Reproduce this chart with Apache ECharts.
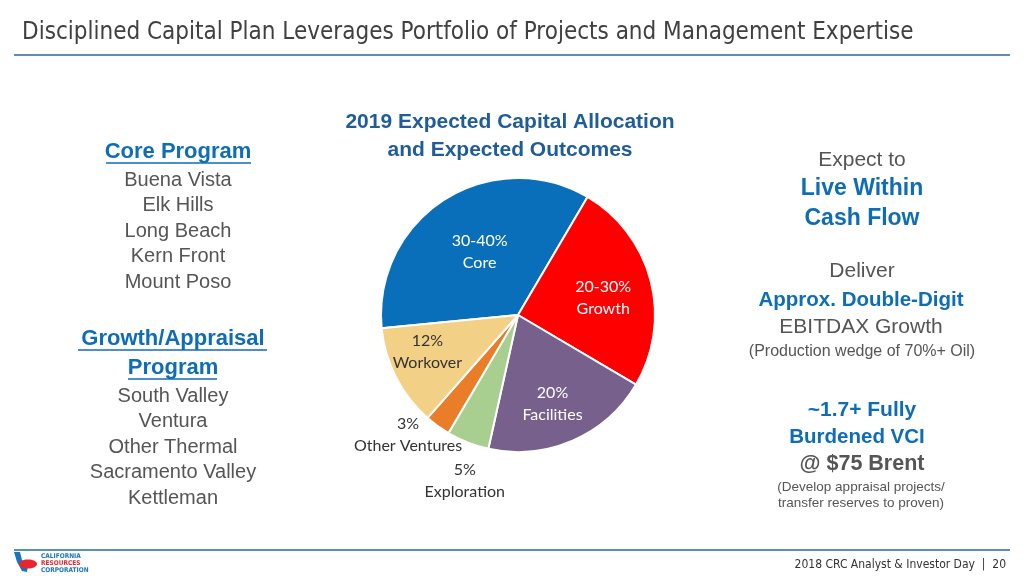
<!DOCTYPE html>
<html>
<head>
<meta charset="utf-8">
<title>Disciplined Capital Plan</title>
<script src="https://cdn.jsdelivr.net/npm/echarts@6/dist/echarts.min.js"></script>
<style>
  html, body { margin: 0; padding: 0; background: #fff; }
  #main { width: 1024px; height: 576px; }
</style>
</head>
<body>
<div id="main"></div>
<script>
// 数据
var sliceNames = ['Core', 'Growth', 'Facilities', 'Exploration', 'Other Ventures', 'Workover']
var sliceValues = [35, 25, 20, 5, 3, 12]
var sliceLabels = ['30-40%', '20-30%', '20%', '5%', '3%', '12%']
var coreFields = ['Buena Vista', 'Elk Hills', 'Long Beach', 'Kern Front', 'Mount Poso']
var growthFields = ['South Valley', 'Ventura', 'Other Thermal', 'Sacramento Valley', 'Kettleman']

// 样式
var sliceColors = ['#0a6fba', '#ff0000', '#77608c', '#a9cf90', '#ea7d27', '#f2d085']
var labelColors = ['#fff', '#fff', '#fff', '#333', '#333', '#333']
var labelNudge = [[0, -3], [16, 1], [6, 23], [-27, 99], [-68, 62], [-27, 4]]

var BLUE = '#0f6db6'
var GRAY = '#555'
var SANS = "'Liberation Sans', Arial, sans-serif"
var NARROW = "'Liberation Sans Narrow', 'DejaVu Sans Condensed', sans-serif"

function txt(x, y, text, size, color, weight, family, align) {
  return {
    type: 'text',
    silent: true,
    style: {
      x: x, y: y, text: text,
      fontSize: size, fontWeight: weight || 'normal',
      fontFamily: family || SANS,
      fill: color,
      align: align || 'center', verticalAlign: 'middle',
      textAlign: align || 'center', textVerticalAlign: 'middle'
    }
  }
}

function hline(x1, x2, y, color, w) {
  return {
    type: 'line',
    silent: true,
    shape: { x1: x1, y1: y, x2: x2, y2: y },
    style: { stroke: color, lineWidth: w }
  }
}

var graphics = []
// 标题与分隔线
graphics.push(txt(22, 33, 'Disciplined Capital Plan Leverages Portfolio of Projects and Management Expertise', 24, '#404040', 'normal', NARROW, 'left'))
graphics.push(hline(14, 1010, 55, '#1f6f94', 1.5))
graphics.push(hline(14, 1010, 550, '#1f6f94', 1.5))
graphics.push(txt(1006, 565, '2018 CRC Analyst & Investor Day  |  20', 12, '#333', 'normal', NARROW, 'right'))

// logo
graphics.push({
  type: 'polygon', silent: true,
  shape: { points: [[14, 552], [20, 552], [22, 560], [28, 566], [27, 572], [22, 571], [17, 562]] },
  style: { fill: '#1b75bb' }
})
graphics.push({ type: 'ellipse', silent: true, shape: { cx: 28, cy: 564, rx: 9, ry: 4.5 }, style: { fill: '#e8262f' } })
graphics.push(txt(41, 556, 'CALIFORNIA', 6.5, '#1b75bb', 'bold', NARROW, 'left'))
graphics.push(txt(41, 563, 'RESOURCES', 6.5, '#e8262f', 'bold', NARROW, 'left'))
graphics.push(txt(41, 570, 'CORPORATION', 6.5, '#1b75bb', 'bold', NARROW, 'left'))

// 左侧
graphics.push(txt(178, 152, 'Core Program', 22, BLUE, 'bold'))
graphics.push(hline(106, 251, 163, BLUE, 1.5))
coreFields.forEach(function(f, i) {
  graphics.push(txt(178, 180 + i * 25.5, f, 20, GRAY))
})
graphics.push(txt(173, 339, 'Growth/Appraisal', 22, BLUE, 'bold'))
graphics.push(hline(78, 267, 350, BLUE, 1.5))
graphics.push(txt(173, 368, 'Program', 22, BLUE, 'bold'))
graphics.push(hline(128, 217, 379, BLUE, 1.5))
growthFields.forEach(function(f, i) {
  graphics.push(txt(173, 396 + i * 25.5, f, 20, GRAY))
})

// 饼图标题
graphics.push(txt(510, 122, '2019 Expected Capital Allocation', 21, '#1f5c99', 'bold'))
graphics.push(txt(510, 150, 'and Expected Outcomes', 21, '#1f5c99', 'bold'))

// 右侧
graphics.push(txt(862, 160, 'Expect to', 21, GRAY))
graphics.push(txt(862, 189, 'Live Within', 23, BLUE, 'bold'))
graphics.push(txt(862, 219, 'Cash Flow', 23, BLUE, 'bold'))
graphics.push(txt(862, 271, 'Deliver', 21, GRAY))
graphics.push(txt(861, 300, 'Approx. Double-Digit', 20.5, BLUE, 'bold'))
graphics.push(txt(861, 327, 'EBITDAX Growth', 21, GRAY))
graphics.push(txt(862, 352, '(Production wedge of 70%+ Oil)', 16, GRAY))
graphics.push(txt(862, 410, '~1.7+ Fully', 21, BLUE, 'bold'))
graphics.push(txt(857, 437, 'Burdened VCI', 20.5, BLUE, 'bold'))
graphics.push(txt(862, 464, '@ $75 Brent', 21.5, GRAY, 'bold'))
graphics.push(txt(861, 487, '(Develop appraisal projects/', 13.5, GRAY))
graphics.push(txt(861, 503, 'transfer reserves to proven)', 13.5, GRAY))

var myChart = echarts.init(document.getElementById('main'))

var option = {
  animation: false,
  backgroundColor: '#fff',
  graphic: { elements: graphics },
  series: [
    {
      type: 'pie',
      center: [518, 315],
      radius: 137,
      startAngle: 185.5,
      clockwise: true,
      avoidLabelOverlap: false,
      silent: true,
      itemStyle: { borderColor: '#fff', borderWidth: 2 },
      label: {
        show: true,
        position: 'inside',
        fontFamily: "Lato, 'Open Sans', sans-serif",
        fontSize: 16,
        lineHeight: 22,
        formatter: function(p) {
          return sliceLabels[p.dataIndex] + '\n' + p.name
        }
      },
      labelLine: { show: false },
      labelLayout: function(p) {
        var n = labelNudge[p.dataIndex]
        return { dx: n[0], dy: n[1] }
      },
      data: sliceNames.map(function(name, i) {
        return {
          name: name,
          value: sliceValues[i],
          itemStyle: { color: sliceColors[i] },
          label: { color: labelColors[i] }
        }
      })
    }
  ]
}

myChart.setOption(option)
</script>
</body>
</html>
